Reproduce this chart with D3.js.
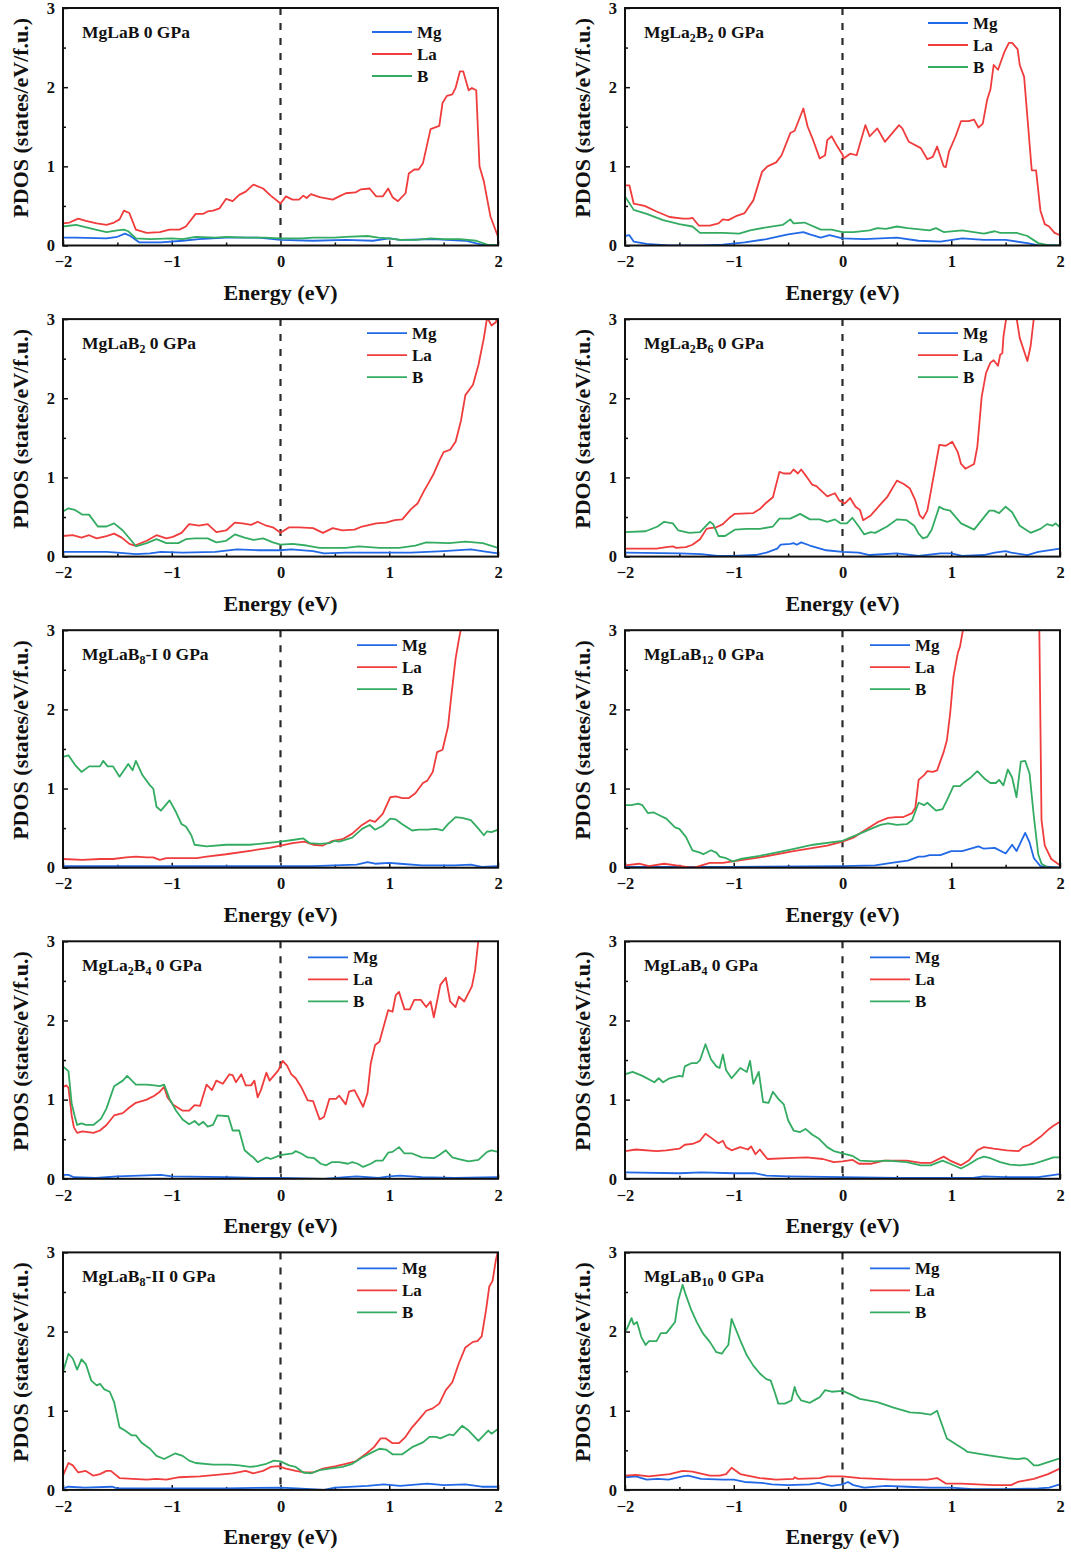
<!DOCTYPE html>
<html>
<head>
<meta charset="utf-8">
<script src="https://cdn.jsdelivr.net/npm/d3@7"></script>
<style>
body { margin: 0; background: #fff; }
text { font-family: "Liberation Serif", "Times New Roman", serif; font-weight: bold; }
</style>
</head>
<body>
<script>
// ---- data (energy in eV, PDOS in states/eV/f.u.) ----
var energyTicks = [-2, -1, 0, 1, 2];
var energyMinor = [-1.5, -0.5, 0.5, 1.5];
var pdosTicks = [0, 1, 2, 3];
var pdosMinor = [0.5, 1.5, 2.5];
var species = ["Mg", "La", "B"];
var titles = ["MgLaB 0 GPa", "MgLa_2B_2 0 GPa", "MgLaB_2 0 GPa", "MgLa_2B_6 0 GPa", "MgLaB_8-I 0 GPa",
  "MgLaB_12 0 GPa", "MgLa_2B_4 0 GPa", "MgLaB_4 0 GPa", "MgLaB_8-II 0 GPa", "MgLaB_10 0 GPa"];

// MgLaB
var mglab_Mg = [[-2,0.10],[-1.88,0.10],[-1.6,0.09],[-1.5,0.11],[-1.43,0.15],[-1.38,0.12],[-1.3,0.04],[-1.1,0.04],[-0.9,0.06],[-0.75,0.08],[-0.5,0.10],[-0.2,0.10],[0,0.07],[0.3,0.06],[0.6,0.07],[0.85,0.06],[1.0,0.09],[1.1,0.07],[1.4,0.08],[1.7,0.06],[1.85,0.01],[2,0]];
var mglab_La = [[-2,0.28],[-1.94,0.29],[-1.86,0.34],[-1.79,0.31],[-1.69,0.28],[-1.6,0.26],[-1.53,0.29],[-1.48,0.33],[-1.44,0.44],[-1.39,0.41],[-1.33,0.20],[-1.23,0.16],[-1.11,0.17],[-1.02,0.20],[-0.93,0.20],[-0.87,0.24],[-0.78,0.40],[-0.71,0.40],[-0.67,0.43],[-0.62,0.44],[-0.56,0.47],[-0.5,0.59],[-0.44,0.56],[-0.38,0.64],[-0.32,0.68],[-0.25,0.77],[-0.16,0.72],[-0.09,0.63],[0,0.53],[0.05,0.62],[0.11,0.58],[0.17,0.58],[0.21,0.63],[0.24,0.60],[0.28,0.65],[0.36,0.61],[0.48,0.58],[0.54,0.62],[0.6,0.66],[0.69,0.67],[0.74,0.71],[0.82,0.72],[0.88,0.62],[0.94,0.62],[0.99,0.72],[1.03,0.61],[1.08,0.56],[1.15,0.66],[1.18,0.91],[1.23,0.96],[1.27,0.96],[1.31,1.04],[1.38,1.47],[1.46,1.51],[1.49,1.80],[1.53,1.89],[1.58,1.91],[1.61,1.99],[1.65,2.20],[1.68,2.20],[1.73,1.96],[1.76,1.99],[1.8,1.96],[1.83,1.00],[1.87,0.81],[1.93,0.37],[2,0.11]];
var mglab_B = [[-2,0.24],[-1.88,0.26],[-1.7,0.20],[-1.6,0.17],[-1.5,0.19],[-1.44,0.20],[-1.4,0.18],[-1.33,0.09],[-1.2,0.08],[-1.0,0.09],[-0.9,0.08],[-0.78,0.11],[-0.6,0.10],[-0.5,0.11],[-0.3,0.10],[-0.15,0.10],[0,0.09],[0.2,0.09],[0.3,0.10],[0.5,0.10],[0.6,0.11],[0.8,0.12],[0.9,0.10],[1.0,0.09],[1.1,0.07],[1.25,0.07],[1.38,0.09],[1.5,0.08],[1.65,0.08],[1.8,0.06],[1.9,0.01],[2,0]];

// MgLa2B2
var mgla2b2_Mg = [[-2,0.12],[-1.96,0.13],[-1.92,0.05],[-1.8,0.02],[-1.6,0],[-1.3,0],[-1.1,0.01],[-0.9,0.04],[-0.7,0.08],[-0.5,0.14],[-0.36,0.17],[-0.3,0.14],[-0.2,0.10],[-0.12,0.13],[0,0.09],[0.2,0.08],[0.5,0.10],[0.7,0.06],[0.9,0.05],[1.1,0.09],[1.3,0.07],[1.5,0.07],[1.7,0.03],[1.8,0],[2,0]];
var mgla2b2_La = [[-2,0.76],[-1.96,0.76],[-1.92,0.53],[-1.82,0.50],[-1.71,0.43],[-1.59,0.36],[-1.47,0.34],[-1.41,0.34],[-1.38,0.35],[-1.32,0.25],[-1.22,0.25],[-1.14,0.28],[-1.1,0.33],[-1.05,0.32],[-0.98,0.37],[-0.9,0.41],[-0.82,0.57],[-0.74,0.93],[-0.69,1.00],[-0.61,1.05],[-0.56,1.14],[-0.48,1.42],[-0.44,1.45],[-0.36,1.73],[-0.32,1.50],[-0.27,1.33],[-0.21,1.10],[-0.16,1.14],[-0.14,1.33],[-0.1,1.38],[-0.06,1.28],[0,1.15],[0.01,1.10],[0.07,1.16],[0.13,1.14],[0.21,1.52],[0.25,1.38],[0.32,1.48],[0.39,1.31],[0.52,1.52],[0.55,1.48],[0.61,1.31],[0.72,1.23],[0.78,1.09],[0.83,1.12],[0.87,1.25],[0.93,1.00],[0.95,0.99],[0.98,1.19],[1.04,1.38],[1.09,1.57],[1.16,1.57],[1.21,1.59],[1.25,1.49],[1.29,1.54],[1.33,1.84],[1.36,1.97],[1.39,2.28],[1.43,2.22],[1.49,2.45],[1.53,2.56],[1.56,2.56],[1.61,2.48],[1.63,2.28],[1.67,2.13],[1.74,0.95],[1.78,0.95],[1.82,0.44],[1.86,0.27],[1.9,0.24],[1.95,0.16],[2,0.13]];
var mgla2b2_B = [[-2,0.62],[-1.92,0.45],[-1.8,0.40],[-1.65,0.32],[-1.5,0.27],[-1.38,0.24],[-1.31,0.16],[-1.1,0.16],[-0.95,0.15],[-0.85,0.19],[-0.7,0.23],[-0.55,0.26],[-0.48,0.33],[-0.45,0.28],[-0.35,0.29],[-0.2,0.20],[-0.1,0.20],[0,0.17],[0.1,0.17],[0.25,0.19],[0.32,0.22],[0.4,0.21],[0.5,0.24],[0.6,0.22],[0.8,0.19],[0.86,0.22],[0.93,0.17],[1.1,0.19],[1.3,0.15],[1.4,0.18],[1.45,0.16],[1.6,0.16],[1.7,0.12],[1.8,0.03],[1.9,0],[2,0]];

// MgLaB2
var mglab2_Mg = [[-2,0.06],[-1.8,0.06],[-1.6,0.06],[-1.5,0.05],[-1.33,0.03],[-1.2,0.04],[-1.1,0.06],[-0.9,0.05],[-0.6,0.06],[-0.4,0.09],[-0.2,0.08],[0,0.08],[0.1,0.09],[0.3,0.07],[0.4,0.04],[0.6,0.05],[0.8,0.05],[1.0,0.05],[1.2,0.05],[1.5,0.07],[1.75,0.09],[1.9,0.06],[2,0.04]];
var mglab2_La = [[-2,0.26],[-1.91,0.27],[-1.83,0.24],[-1.76,0.27],[-1.69,0.23],[-1.6,0.26],[-1.53,0.29],[-1.46,0.24],[-1.39,0.16],[-1.34,0.14],[-1.23,0.20],[-1.14,0.27],[-1.05,0.23],[-0.99,0.25],[-0.91,0.30],[-0.84,0.41],[-0.75,0.39],[-0.67,0.41],[-0.59,0.31],[-0.5,0.33],[-0.42,0.43],[-0.35,0.42],[-0.27,0.40],[-0.21,0.44],[-0.13,0.39],[-0.07,0.37],[0,0.30],[0.08,0.37],[0.17,0.37],[0.3,0.36],[0.39,0.30],[0.48,0.36],[0.57,0.33],[0.68,0.34],[0.75,0.38],[0.88,0.42],[0.97,0.43],[1.05,0.46],[1.12,0.47],[1.2,0.60],[1.26,0.67],[1.32,0.83],[1.37,0.95],[1.41,1.05],[1.46,1.21],[1.5,1.32],[1.56,1.35],[1.61,1.45],[1.66,1.72],[1.7,2.04],[1.77,2.17],[1.82,2.42],[1.87,2.76],[1.9,3.02],[1.94,2.92],[1.98,2.96],[2,3.05]];
var mglab2_B = [[-2,0.57],[-1.95,0.61],[-1.89,0.59],[-1.82,0.53],[-1.76,0.53],[-1.68,0.38],[-1.6,0.38],[-1.53,0.42],[-1.45,0.33],[-1.37,0.20],[-1.33,0.13],[-1.23,0.17],[-1.14,0.22],[-1.05,0.17],[-0.94,0.17],[-0.87,0.22],[-0.79,0.23],[-0.67,0.23],[-0.59,0.18],[-0.5,0.20],[-0.42,0.28],[-0.33,0.24],[-0.25,0.21],[-0.16,0.23],[-0.07,0.18],[0,0.15],[0.11,0.16],[0.24,0.14],[0.36,0.11],[0.48,0.11],[0.6,0.11],[0.72,0.13],[0.91,0.11],[1.09,0.11],[1.24,0.14],[1.34,0.18],[1.55,0.17],[1.7,0.19],[1.86,0.17],[2,0.11]];

// MgLa2B6
var mgla2b6_Mg = [[-2,0.05],[-1.5,0.04],[-1.3,0.03],[-1.15,0.01],[-1.0,0.01],[-0.8,0.02],[-0.7,0.05],[-0.6,0.10],[-0.57,0.15],[-0.48,0.16],[-0.45,0.17],[-0.42,0.15],[-0.38,0.18],[-0.3,0.14],[-0.15,0.08],[0,0.06],[0.15,0.05],[0.25,0.02],[0.5,0.04],[0.7,0.01],[0.9,0.04],[1.0,0.04],[1.1,0.01],[1.3,0.02],[1.4,0.05],[1.5,0.07],[1.55,0.05],[1.7,0.02],[1.8,0.06],[2,0.10]];
var mgla2b6_La = [[-2,0.10],[-1.71,0.10],[-1.62,0.12],[-1.56,0.13],[-1.53,0.11],[-1.44,0.12],[-1.38,0.15],[-1.31,0.22],[-1.25,0.35],[-1.22,0.36],[-1.16,0.37],[-1.1,0.41],[-1.04,0.49],[-0.99,0.54],[-0.82,0.55],[-0.76,0.60],[-0.71,0.67],[-0.64,0.75],[-0.58,1.07],[-0.54,1.05],[-0.48,1.05],[-0.45,1.10],[-0.41,1.05],[-0.38,1.10],[-0.33,1.01],[-0.28,0.91],[-0.24,0.89],[-0.14,0.76],[-0.07,0.80],[-0.03,0.71],[0.02,0.67],[0.07,0.74],[0.12,0.63],[0.16,0.59],[0.19,0.46],[0.26,0.52],[0.33,0.63],[0.41,0.75],[0.5,0.96],[0.56,0.92],[0.62,0.86],[0.67,0.71],[0.71,0.52],[0.74,0.48],[0.78,0.58],[0.82,0.88],[0.89,1.41],[0.95,1.40],[1.01,1.45],[1.06,1.32],[1.09,1.17],[1.13,1.11],[1.21,1.17],[1.24,1.39],[1.28,2.02],[1.32,2.32],[1.36,2.45],[1.39,2.48],[1.43,2.41],[1.45,2.55],[1.47,2.57],[1.48,2.78],[1.51,3.05],[1.54,3.5],[1.58,3.4],[1.6,3.02],[1.63,2.76],[1.7,2.47],[1.73,2.66],[1.76,3.02],[1.8,3.6],[2,4.0]];
var mgla2b6_B = [[-2,0.31],[-1.81,0.32],[-1.7,0.38],[-1.64,0.44],[-1.56,0.42],[-1.51,0.33],[-1.41,0.30],[-1.31,0.31],[-1.22,0.44],[-1.19,0.41],[-1.14,0.26],[-1.08,0.26],[-0.99,0.34],[-0.88,0.35],[-0.76,0.35],[-0.64,0.38],[-0.58,0.48],[-0.48,0.48],[-0.39,0.54],[-0.3,0.47],[-0.21,0.47],[-0.14,0.44],[-0.07,0.47],[-0.02,0.42],[0.04,0.42],[0.09,0.49],[0.15,0.38],[0.2,0.28],[0.26,0.31],[0.3,0.30],[0.41,0.38],[0.5,0.47],[0.59,0.46],[0.66,0.39],[0.7,0.29],[0.74,0.23],[0.78,0.25],[0.82,0.34],[0.89,0.63],[0.93,0.60],[0.99,0.58],[1.09,0.42],[1.21,0.34],[1.28,0.46],[1.35,0.58],[1.39,0.58],[1.44,0.55],[1.5,0.63],[1.56,0.56],[1.63,0.39],[1.73,0.30],[1.82,0.35],[1.88,0.41],[1.93,0.39],[1.96,0.42],[2,0.37]];

// MgLaB8-I
var mglab8i_Mg = [[-2,0.02],[-1.5,0.02],[-1.0,0.02],[-0.5,0.02],[0,0.02],[0.3,0.02],[0.5,0.03],[0.7,0.04],[0.8,0.07],[0.87,0.05],[1.0,0.06],[1.1,0.05],[1.3,0.03],[1.6,0.03],[1.75,0.04],[1.85,0.01],[2,0.02]];
var mglab8i_La = [[-2,0.11],[-1.82,0.10],[-1.66,0.11],[-1.54,0.11],[-1.42,0.13],[-1.33,0.14],[-1.23,0.13],[-1.17,0.13],[-1.11,0.10],[-1.05,0.12],[-0.93,0.12],[-0.77,0.12],[-0.68,0.14],[-0.5,0.17],[-0.25,0.22],[-0.1,0.25],[0,0.28],[0.11,0.31],[0.22,0.33],[0.3,0.29],[0.39,0.28],[0.48,0.34],[0.57,0.36],[0.66,0.43],[0.75,0.54],[0.82,0.60],[0.87,0.58],[0.94,0.68],[1.01,0.89],[1.06,0.90],[1.12,0.88],[1.18,0.88],[1.24,0.94],[1.31,1.07],[1.35,1.10],[1.4,1.21],[1.44,1.46],[1.49,1.49],[1.54,1.78],[1.57,2.16],[1.61,2.64],[1.64,2.88],[1.66,3.02],[1.72,3.5],[2,4.5]];
var mglab8i_B = [[-2,1.40],[-1.95,1.42],[-1.89,1.30],[-1.83,1.21],[-1.76,1.28],[-1.66,1.28],[-1.63,1.35],[-1.59,1.28],[-1.54,1.28],[-1.48,1.15],[-1.4,1.31],[-1.36,1.23],[-1.33,1.35],[-1.27,1.17],[-1.2,1.04],[-1.17,1.00],[-1.14,0.77],[-1.1,0.72],[-1.02,0.85],[-0.96,0.70],[-0.91,0.55],[-0.87,0.52],[-0.82,0.41],[-0.79,0.29],[-0.68,0.27],[-0.5,0.29],[-0.28,0.29],[-0.13,0.31],[0,0.33],[0.11,0.35],[0.21,0.37],[0.27,0.31],[0.36,0.30],[0.45,0.31],[0.5,0.34],[0.54,0.33],[0.66,0.38],[0.75,0.49],[0.82,0.54],[0.87,0.48],[0.94,0.53],[1.01,0.62],[1.06,0.61],[1.12,0.55],[1.21,0.47],[1.27,0.48],[1.35,0.48],[1.43,0.49],[1.49,0.47],[1.54,0.55],[1.61,0.64],[1.67,0.63],[1.75,0.60],[1.81,0.51],[1.87,0.41],[1.9,0.46],[1.94,0.45],[2,0.48]];

// MgLaB12
var mglab12_Mg = [[-2,0.01],[-1,0.01],[0,0.02],[0.3,0.03],[0.45,0.06],[0.6,0.09],[0.7,0.14],[0.75,0.14],[0.8,0.16],[0.9,0.16],[1.0,0.21],[1.1,0.21],[1.25,0.27],[1.3,0.24],[1.4,0.25],[1.5,0.18],[1.56,0.29],[1.6,0.21],[1.68,0.44],[1.72,0.32],[1.76,0.12],[1.82,0.02],[2,0]];
var mglab12_La = [[-2,0.03],[-1.87,0.05],[-1.78,0.02],[-1.64,0.05],[-1.53,0.03],[-1.39,0],[-1.34,0.01],[-1.22,0.06],[-1.1,0.06],[-1.01,0.08],[-0.76,0.13],[-0.45,0.21],[-0.14,0.28],[0,0.33],[0.1,0.38],[0.18,0.45],[0.26,0.52],[0.33,0.58],[0.42,0.63],[0.49,0.64],[0.56,0.64],[0.64,0.69],[0.67,0.76],[0.7,1.11],[0.75,1.17],[0.78,1.22],[0.83,1.21],[0.87,1.23],[0.93,1.46],[0.96,1.61],[0.99,1.95],[1.02,2.41],[1.06,2.71],[1.08,2.79],[1.11,3.02],[1.15,3.8],[1.78,3.8],[1.81,3.0],[1.83,0.60],[1.86,0.28],[1.92,0.11],[2,0.03]];
var mglab12_B = [[-2,0.79],[-1.94,0.79],[-1.88,0.81],[-1.84,0.79],[-1.79,0.69],[-1.74,0.70],[-1.68,0.66],[-1.62,0.62],[-1.54,0.51],[-1.5,0.49],[-1.44,0.39],[-1.38,0.22],[-1.31,0.19],[-1.28,0.17],[-1.21,0.22],[-1.16,0.19],[-1.13,0.14],[-1.07,0.12],[-1.01,0.08],[-0.94,0.11],[-0.76,0.15],[-0.51,0.22],[-0.27,0.29],[0,0.34],[0.16,0.43],[0.26,0.49],[0.35,0.54],[0.42,0.56],[0.5,0.54],[0.59,0.55],[0.64,0.60],[0.7,0.82],[0.75,0.79],[0.78,0.82],[0.86,0.72],[0.92,0.74],[0.96,0.85],[1.02,1.03],[1.08,1.03],[1.12,1.08],[1.18,1.14],[1.24,1.22],[1.31,1.12],[1.36,1.07],[1.41,1.07],[1.44,1.11],[1.48,1.04],[1.52,1.24],[1.56,1.14],[1.6,0.89],[1.64,1.34],[1.68,1.35],[1.72,1.19],[1.76,0.64],[1.8,0.17],[1.83,0.05],[1.89,0],[2,0]];

// MgLa2B4
var mgla2b4_Mg = [[-2,0.05],[-1.95,0.05],[-1.9,0.02],[-1.7,0.01],[-1.5,0.03],[-1.3,0.04],[-1.1,0.05],[-1.05,0.04],[-1.0,0.03],[-0.5,0.02],[-0.2,0.01],[0,0.01],[0.4,0],[0.6,0.02],[0.7,0.03],[0.9,0.01],[1.0,0.03],[1.1,0.04],[1.3,0.02],[1.6,0.01],[2,0.02]];
var mgla2b4_La = [[-2,1.16],[-1.97,1.18],[-1.95,1.15],[-1.92,0.80],[-1.9,0.65],[-1.87,0.58],[-1.82,0.60],[-1.72,0.58],[-1.66,0.61],[-1.6,0.68],[-1.53,0.80],[-1.45,0.83],[-1.39,0.90],[-1.33,0.96],[-1.23,1.00],[-1.16,1.05],[-1.11,1.10],[-1.07,1.16],[-1.04,1.03],[-0.99,0.94],[-0.9,0.86],[-0.84,0.86],[-0.79,0.93],[-0.74,0.92],[-0.68,1.19],[-0.63,1.12],[-0.59,1.24],[-0.53,1.20],[-0.47,1.32],[-0.44,1.31],[-0.41,1.22],[-0.36,1.32],[-0.32,1.18],[-0.27,1.18],[-0.24,1.24],[-0.21,1.03],[-0.18,1.12],[-0.13,1.34],[-0.1,1.24],[-0.02,1.37],[0.02,1.49],[0.06,1.43],[0.1,1.32],[0.14,1.27],[0.19,1.16],[0.25,0.99],[0.3,0.98],[0.36,0.75],[0.4,0.78],[0.45,1.01],[0.51,1.01],[0.54,1.05],[0.6,0.94],[0.63,1.10],[0.68,1.12],[0.76,0.91],[0.8,1.08],[0.83,1.46],[0.87,1.69],[0.91,1.73],[0.99,2.13],[1.03,2.11],[1.06,2.32],[1.09,2.36],[1.14,2.14],[1.19,2.14],[1.23,2.26],[1.29,2.26],[1.34,2.17],[1.38,2.24],[1.41,2.04],[1.47,2.45],[1.52,2.54],[1.56,2.24],[1.61,2.17],[1.64,2.30],[1.69,2.24],[1.76,2.43],[1.79,2.64],[1.82,3.02],[1.86,3.6],[2,4.0]];
var mgla2b4_B = [[-2,1.42],[-1.95,1.36],[-1.92,0.95],[-1.89,0.78],[-1.87,0.68],[-1.83,0.70],[-1.79,0.68],[-1.72,0.68],[-1.65,0.76],[-1.6,0.89],[-1.53,1.17],[-1.45,1.24],[-1.41,1.30],[-1.33,1.19],[-1.23,1.19],[-1.16,1.18],[-1.11,1.17],[-1.07,1.19],[-1.02,1.01],[-0.96,0.86],[-0.9,0.75],[-0.84,0.69],[-0.79,0.73],[-0.75,0.68],[-0.71,0.72],[-0.67,0.66],[-0.62,0.68],[-0.58,0.80],[-0.48,0.79],[-0.44,0.61],[-0.38,0.61],[-0.33,0.36],[-0.28,0.30],[-0.25,0.27],[-0.21,0.21],[-0.13,0.27],[-0.09,0.25],[0,0.30],[0.11,0.32],[0.14,0.35],[0.19,0.32],[0.25,0.27],[0.31,0.26],[0.37,0.19],[0.42,0.17],[0.47,0.21],[0.54,0.21],[0.62,0.19],[0.66,0.21],[0.71,0.19],[0.76,0.15],[0.83,0.19],[0.88,0.23],[0.94,0.23],[0.99,0.33],[1.03,0.34],[1.09,0.40],[1.14,0.32],[1.21,0.32],[1.3,0.27],[1.41,0.26],[1.46,0.30],[1.52,0.36],[1.58,0.27],[1.64,0.25],[1.73,0.22],[1.82,0.24],[1.9,0.34],[1.94,0.36],[2,0.34]];

// MgLaB4
var mglab4_Mg = [[-2,0.08],[-1.5,0.07],[-1.3,0.08],[-1.0,0.07],[-0.8,0.07],[-0.7,0.04],[-0.5,0.03],[0,0.02],[0.5,0.01],[1.0,0.01],[1.2,0.01],[1.3,0.03],[1.5,0.02],[1.8,0.02],[1.9,0.04],[2,0.06]];
var mglab4_La = [[-2,0.35],[-1.9,0.37],[-1.71,0.35],[-1.62,0.36],[-1.5,0.38],[-1.45,0.43],[-1.38,0.44],[-1.31,0.48],[-1.26,0.57],[-1.21,0.52],[-1.14,0.45],[-1.1,0.48],[-1.07,0.40],[-1.02,0.36],[-0.94,0.40],[-0.87,0.37],[-0.84,0.41],[-0.8,0.31],[-0.76,0.37],[-0.69,0.25],[-0.51,0.26],[-0.33,0.27],[-0.18,0.25],[-0.08,0.21],[0,0.22],[0.09,0.24],[0.15,0.19],[0.26,0.19],[0.38,0.23],[0.59,0.23],[0.72,0.20],[0.81,0.20],[0.93,0.28],[0.99,0.23],[1.09,0.17],[1.16,0.23],[1.24,0.36],[1.3,0.40],[1.39,0.38],[1.51,0.36],[1.62,0.35],[1.66,0.40],[1.72,0.43],[1.82,0.53],[1.9,0.63],[1.94,0.67],[2,0.72]];
var mglab4_B = [[-2,1.32],[-1.93,1.35],[-1.84,1.30],[-1.73,1.22],[-1.69,1.27],[-1.65,1.22],[-1.59,1.27],[-1.5,1.30],[-1.47,1.29],[-1.45,1.42],[-1.39,1.46],[-1.34,1.46],[-1.31,1.50],[-1.26,1.70],[-1.21,1.51],[-1.16,1.42],[-1.13,1.40],[-1.1,1.57],[-1.07,1.37],[-1.02,1.27],[-0.97,1.35],[-0.94,1.40],[-0.88,1.35],[-0.85,1.49],[-0.82,1.20],[-0.77,1.35],[-0.73,0.97],[-0.68,0.96],[-0.64,1.10],[-0.59,1.01],[-0.54,0.94],[-0.5,0.74],[-0.45,0.61],[-0.39,0.59],[-0.34,0.63],[-0.28,0.56],[-0.22,0.51],[-0.14,0.40],[-0.08,0.35],[0,0.32],[0.09,0.29],[0.16,0.23],[0.29,0.22],[0.41,0.23],[0.59,0.21],[0.72,0.17],[0.81,0.17],[0.92,0.23],[0.99,0.19],[1.09,0.13],[1.16,0.18],[1.24,0.25],[1.3,0.28],[1.36,0.26],[1.45,0.21],[1.54,0.18],[1.63,0.17],[1.7,0.18],[1.76,0.19],[1.85,0.23],[1.94,0.27],[2,0.27]];

// MgLaB8-II
var mglab8ii_Mg = [[-2,0.02],[-1.95,0.04],[-1.8,0.03],[-1.55,0.04],[-1.5,0.02],[-1.0,0.02],[-0.5,0.02],[0,0.03],[0.15,0.02],[0.4,0],[0.5,0.03],[0.8,0.05],[0.95,0.07],[1.1,0.05],[1.35,0.08],[1.5,0.06],[1.7,0.07],[1.85,0.04],[2,0.04]];
var mglab8ii_La = [[-2,0.18],[-1.95,0.34],[-1.91,0.31],[-1.86,0.22],[-1.79,0.24],[-1.72,0.18],[-1.66,0.20],[-1.6,0.24],[-1.56,0.24],[-1.48,0.15],[-1.36,0.14],[-1.23,0.13],[-1.14,0.14],[-1.05,0.13],[-0.93,0.16],[-0.74,0.17],[-0.59,0.19],[-0.44,0.21],[-0.32,0.24],[-0.25,0.21],[-0.16,0.24],[-0.09,0.29],[-0.02,0.30],[0.05,0.27],[0.14,0.24],[0.22,0.22],[0.3,0.22],[0.39,0.27],[0.51,0.30],[0.6,0.33],[0.69,0.36],[0.79,0.46],[0.86,0.54],[0.92,0.65],[0.97,0.65],[1.03,0.59],[1.09,0.59],[1.15,0.67],[1.21,0.79],[1.28,0.90],[1.34,1.00],[1.4,1.03],[1.46,1.09],[1.52,1.26],[1.58,1.36],[1.64,1.60],[1.7,1.80],[1.77,1.87],[1.81,1.88],[1.85,1.94],[1.89,2.27],[1.92,2.57],[1.95,2.64],[1.98,2.90],[2,3.02]];
var mglab8ii_B = [[-2,1.49],[-1.95,1.72],[-1.91,1.66],[-1.87,1.52],[-1.83,1.65],[-1.79,1.59],[-1.74,1.38],[-1.69,1.32],[-1.66,1.34],[-1.62,1.27],[-1.57,1.24],[-1.53,1.11],[-1.48,0.79],[-1.43,0.75],[-1.37,0.69],[-1.33,0.69],[-1.28,0.60],[-1.2,0.52],[-1.14,0.43],[-1.07,0.39],[-0.97,0.46],[-0.9,0.43],[-0.84,0.37],[-0.78,0.34],[-0.62,0.32],[-0.47,0.32],[-0.38,0.31],[-0.28,0.29],[-0.22,0.30],[-0.13,0.33],[-0.06,0.37],[0,0.36],[0.08,0.31],[0.14,0.29],[0.21,0.22],[0.28,0.21],[0.36,0.25],[0.45,0.27],[0.57,0.29],[0.66,0.33],[0.75,0.41],[0.85,0.48],[0.91,0.52],[0.97,0.51],[1.03,0.45],[1.12,0.45],[1.21,0.54],[1.31,0.60],[1.37,0.67],[1.43,0.67],[1.47,0.65],[1.55,0.70],[1.59,0.69],[1.67,0.81],[1.73,0.75],[1.82,0.62],[1.91,0.75],[1.94,0.71],[2,0.77]];

// MgLaB10
var mglab10_Mg = [[-2,0.16],[-1.9,0.17],[-1.8,0.13],[-1.7,0.14],[-1.6,0.13],[-1.47,0.17],[-1.42,0.18],[-1.3,0.14],[-1.1,0.13],[-1.0,0.13],[-0.9,0.10],[-0.75,0.09],[-0.65,0.07],[-0.5,0.06],[-0.3,0.07],[-0.22,0.09],[-0.1,0.05],[0,0.07],[0.05,0.10],[0.1,0.06],[0.2,0.03],[0.4,0.05],[0.6,0.04],[0.8,0.03],[1.0,0.03],[1.2,0.01],[1.5,0.01],[1.8,0.02],[1.9,0.03],[2,0.07]];
var mglab10_La = [[-2,0.18],[-1.9,0.19],[-1.78,0.17],[-1.59,0.20],[-1.47,0.24],[-1.38,0.23],[-1.22,0.18],[-1.13,0.18],[-1.07,0.20],[-1.02,0.28],[-0.94,0.20],[-0.76,0.15],[-0.61,0.13],[-0.45,0.14],[-0.44,0.16],[-0.41,0.14],[-0.21,0.15],[-0.14,0.17],[0,0.17],[0.16,0.15],[0.47,0.13],[0.78,0.13],[0.87,0.15],[0.95,0.08],[1.09,0.08],[1.39,0.06],[1.55,0.06],[1.61,0.10],[1.76,0.14],[1.89,0.20],[2,0.27]];
var mglab10_B = [[-2,2.00],[-1.98,2.04],[-1.94,2.17],[-1.92,2.09],[-1.89,2.12],[-1.85,1.93],[-1.81,1.83],[-1.78,1.88],[-1.71,1.88],[-1.67,1.98],[-1.62,1.98],[-1.58,2.05],[-1.54,2.12],[-1.51,2.40],[-1.47,2.59],[-1.44,2.46],[-1.39,2.27],[-1.34,2.12],[-1.28,1.97],[-1.22,1.87],[-1.16,1.74],[-1.11,1.72],[-1.08,1.78],[-1.05,1.83],[-1.02,2.16],[-0.99,2.06],[-0.94,1.89],[-0.88,1.70],[-0.82,1.57],[-0.76,1.47],[-0.7,1.40],[-0.66,1.38],[-0.62,1.22],[-0.59,1.09],[-0.53,1.09],[-0.47,1.13],[-0.44,1.30],[-0.42,1.21],[-0.38,1.13],[-0.3,1.10],[-0.25,1.14],[-0.21,1.17],[-0.16,1.26],[-0.1,1.24],[0,1.25],[0.07,1.21],[0.16,1.15],[0.32,1.11],[0.47,1.04],[0.62,0.98],[0.72,0.97],[0.81,0.95],[0.87,1.00],[0.9,0.88],[0.96,0.65],[1.05,0.57],[1.12,0.51],[1.15,0.48],[1.33,0.44],[1.52,0.40],[1.61,0.39],[1.67,0.40],[1.7,0.39],[1.76,0.31],[1.8,0.31],[1.89,0.35],[2,0.40]];

var seriesByPanel = [
  [mglab_Mg, mglab_La, mglab_B],
  [mgla2b2_Mg, mgla2b2_La, mgla2b2_B],
  [mglab2_Mg, mglab2_La, mglab2_B],
  [mgla2b6_Mg, mgla2b6_La, mgla2b6_B],
  [mglab8i_Mg, mglab8i_La, mglab8i_B],
  [mglab12_Mg, mglab12_La, mglab12_B],
  [mgla2b4_Mg, mgla2b4_La, mgla2b4_B],
  [mglab4_Mg, mglab4_La, mglab4_B],
  [mglab8ii_Mg, mglab8ii_La, mglab8ii_B],
  [mglab10_Mg, mglab10_La, mglab10_B]
];

// ---- layout ----
var colors = ["#2169e6", "#f03c3c", "#33ac62"];
var colX = [63, 625], rowY0 = 8, rowStep = 311.1,
w = 435, h = 237.5;
// legend offset inside each panel: [x of line start, y of first row]
var legendPos = [[309, 24], [303, 15], [304, 14], [293, 14], [294, 15], [245, 15], [245, 16], [245, 16], [294, 16], [245, 16]];

var xSc = d3.scaleLinear().domain([-2, 2]).range([0, w]),
ySc = d3.scaleLinear().domain([0, 3]).range([h, 0]);

var line = d3.line()
  .x(function(d) { return xSc(d[0]); })
  .y(function(d) { return ySc(d[1]); });

var svg = d3.select("body").append("svg")
  .attr("width", 1071).attr("height", 1557);

svg.append("rect").attr("width", 1071).attr("height", 1557).attr("fill", "#fff");

function styleTicks(g, size) {
  g.select(".domain").remove();
  g.selectAll(".tick line").attr("stroke", "#111").attr("stroke-width", 1.5);
  g.selectAll("text")
    .attr("fill", "#111")
    .style("font-family", "'Liberation Serif','Times New Roman',serif")
    .style("font-weight", "bold")
    .style("font-size", size + "px");
}

seriesByPanel.forEach(function(series, i) {
  var col = i % 2, row = Math.floor(i / 2);
  var panel = svg.append("g")
    .attr("transform", "translate(" + colX[col] + "," + (rowY0 + row * rowStep) + ")");

  panel.append("clipPath").attr("id", "clip-" + i)
    .append("rect").attr("width", w).attr("height", h);

  // axes (ticks point inward)
  panel.append("g")
    .attr("transform", "translate(0," + h + ")")
    .call(d3.axisBottom(xSc).tickValues(energyTicks).tickFormat(d3.format("d"))
      .tickSizeInner(-5).tickSizeOuter(0).tickPadding(10))
    .call(styleTicks, 16.5);
  panel.append("g")
    .attr("transform", "translate(0," + h + ")")
    .call(d3.axisBottom(xSc).tickValues(energyMinor).tickFormat("").tickSizeInner(-3).tickSizeOuter(0))
    .call(styleTicks, 16);
  panel.append("g")
    .call(d3.axisLeft(ySc).tickValues(pdosTicks).tickFormat(d3.format("d"))
      .tickSizeInner(-5).tickSizeOuter(0).tickPadding(8))
    .call(styleTicks, 16.5);
  panel.append("g")
    .call(d3.axisLeft(ySc).tickValues(pdosMinor).tickFormat("").tickSizeInner(-3).tickSizeOuter(0))
    .call(styleTicks, 16);

  // Fermi level
  panel.append("line")
    .attr("x1", xSc(0)).attr("x2", xSc(0))
    .attr("y1", 0).attr("y2", h)
    .attr("stroke", "#2a2a2a").attr("stroke-width", 2.2)
    .attr("stroke-dasharray", "7,8");

  var curves = panel.append("g").attr("clip-path", "url(#clip-" + i + ")");
  series.forEach(function(s, k) {
    curves.append("path")
      .datum(s)
      .attr("d", line)
      .attr("fill", "none")
      .attr("stroke", colors[k])
      .attr("stroke-width", 1.8)
      .attr("stroke-linejoin", "round");
  });

  panel.append("rect")
    .attr("width", w).attr("height", h)
    .attr("fill", "none").attr("stroke", "#111").attr("stroke-width", 2);

  // panel title, "_n" marks a subscript
  var title = panel.append("text")
    .attr("x", 19).attr("y", 30)
    .attr("font-size", "17.5px").attr("fill", "#111");
  var shift = 0;
  titles[i].split(/(_[0-9]+)/).forEach(function(part) {
    if (!part) return;
    if (part[0] === "_") {
      title.append("tspan").attr("font-size", "12px").attr("dy", 4 - shift).text(part.slice(1));
      shift = 4;
    } else {
      title.append("tspan").attr("dy", -shift).text(part);
      shift = 0;
    }
  });

  // legend
  var lg = panel.append("g")
    .attr("transform", "translate(" + legendPos[i][0] + "," + legendPos[i][1] + ")");
  species.forEach(function(name, k) {
    lg.append("line")
      .attr("x1", 0).attr("x2", 40)
      .attr("y1", k * 22).attr("y2", k * 22)
      .attr("stroke", colors[k]).attr("stroke-width", 1.8);
    lg.append("text")
      .attr("x", 45).attr("y", k * 22 + 6)
      .attr("font-size", "17px").attr("fill", "#111")
      .text(name);
  });

  // axis titles
  panel.append("text")
    .attr("x", w / 2).attr("y", h + 54)
    .attr("text-anchor", "middle")
    .attr("font-size", "22px").attr("fill", "#111")
    .text("Energy (eV)");
  panel.append("text")
    .attr("transform", "translate(-35," + (h / 2 - 9) + ") rotate(-90)")
    .attr("text-anchor", "middle")
    .attr("font-size", "22px").attr("fill", "#111")
    .text("PDOS (states/eV/f.u.)");
});
</script>
</body>
</html>
